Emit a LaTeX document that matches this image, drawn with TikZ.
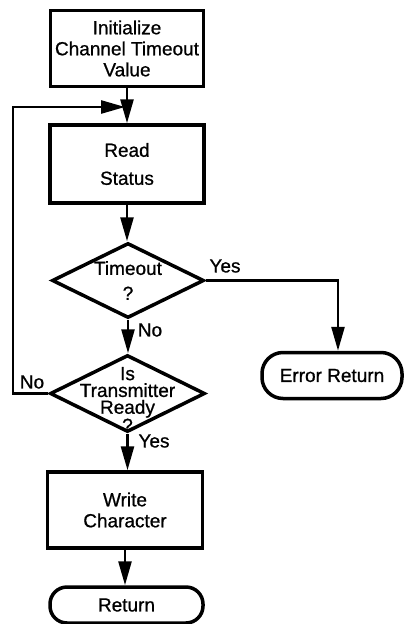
\documentclass[tikz,border=0pt]{standalone}
\usepackage{fontspec}
\setmainfont{Liberation Sans}[FakeBold=0.8]
\usetikzlibrary{shapes.geometric,arrows.meta}
\tikzset{
  txt/.style={font=\fontsize{19}{21}\selectfont},
  procbox/.style={draw, line width=3.5pt, rectangle, inner sep=0pt, align=center, txt},
  decbox/.style={draw, line width=3.5pt, diamond, inner sep=0pt},
  termbox/.style={draw, line width=3.5pt, rectangle, inner sep=0pt, align=center, txt},
  flow/.style={line width=2.6pt, -{Triangle[length=24pt,width=13pt]}},
  lbl/.style={txt, inner sep=0pt}
}
\begin{document}
\begin{tikzpicture}[x=1pt,y=-1pt]
\useasboundingbox (0,0) rectangle (404,624);
\node[procbox, minimum width=153pt, minimum height=76pt] (init) at (127,48.5)
  {Initialize\\Channel Timeout\\Value};
\node[procbox, minimum width=154pt, minimum height=78pt] (read) at (127,164)
  {Read\\[7pt]Status};
\node[decbox, minimum width=152pt, minimum height=75pt,
  label={[txt, align=center, inner sep=0pt]center:Timeout\\[4pt]?}] (to) at (128,280.5) {};
\node[decbox, minimum width=155pt, minimum height=77pt,
  label={[font=\fontsize{19}{16.8}\selectfont, align=center, inner sep=0pt, yshift=-6pt]center:Is\\Transmitter\\Ready\\?}] (tr) at (127.5,393.5) {};
\node[procbox, minimum width=155pt, minimum height=76pt] (write) at (125,510)
  {Write\\Character};
\node[termbox, rounded corners=17pt, minimum width=153pt, minimum height=36pt] (ret) at (126.5,605) {Return};
\node[termbox, rounded corners=21pt, minimum width=140pt, minimum height=46pt] (err) at (332,375.5) {Error Return};

\coordinate (fb) at (13,107);
\coordinate (c1) at (338,280.5);

\draw[flow] (init.south -| read.north) -- (read.north);
\draw[flow] (read.south) -- (read.south |- to.north);
\draw[flow] (to.south) -- (to.south |- tr.north);
\draw[flow] (tr.south) -- (tr.south |- write.north);
\draw[flow] (write.south) -- (write.south |- ret.north);
\draw[flow] (to.east) -- (c1) -- (c1 |- err.north);
\draw[flow, shorten >=2pt] (tr.west) -- (tr.west -| fb) -- (fb) -- (fb -| read.north);

\node[lbl] (yes1) at (225,266) {Yes};
\node[lbl] (no1) at (150,330) {No};
\node[lbl] (no2) at (32,382) {No};
\node[lbl] (yes2) at (154,441) {Yes};
\end{tikzpicture}
\end{document}
